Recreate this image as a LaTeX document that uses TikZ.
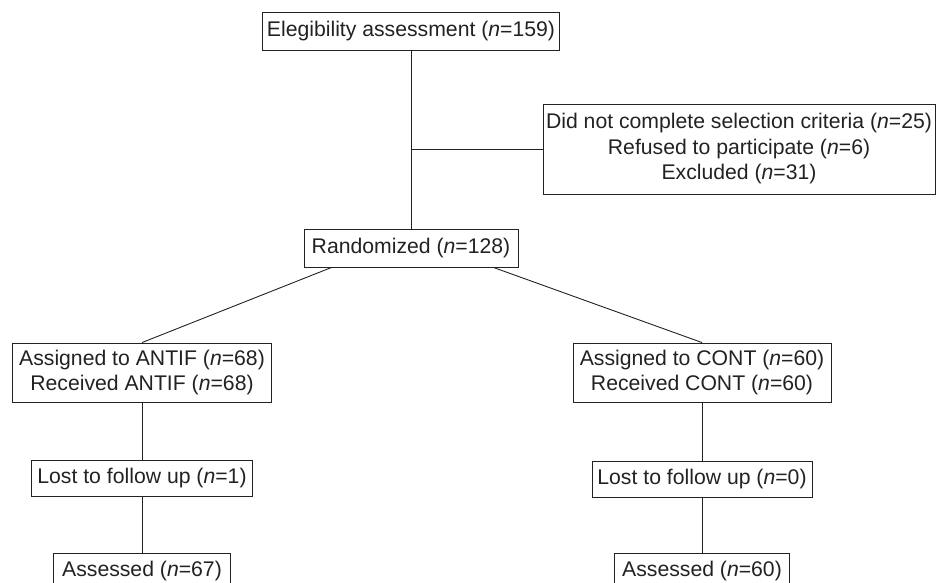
\documentclass[tikz,border=0pt]{standalone}
\usepackage{fontspec}
\setmainfont{Liberation Sans}
\usetikzlibrary{calc}
\definecolor{ink}{HTML}{222222}
\tikzset{
  box/.style={draw=ink, line width=0.9pt, text=ink, inner sep=0pt, align=center,
    font=\fontsize{21.2}{25.5}\selectfont},
  link/.style={draw=ink, line width=0.9pt}
}
\begin{document}
\begin{tikzpicture}[x=1pt, y=-1pt]
\useasboundingbox (0,0) rectangle (936,582);
\clip (0,0) rectangle (936,582);
\node[box, minimum width=297pt, minimum height=38pt] (top) at (411,31) {Elegibility assessment (\textit{n}=159)};
\node[box, minimum width=392pt, minimum height=90pt] (excl) at (739,149) {Did not complete selection criteria (\textit{n}=25)\\Refused to participate (\textit{n}=6)\\Excluded (\textit{n}=31)};
\node[box, minimum width=214pt, minimum height=38pt] (rand) at (411,248) {Randomized (\textit{n}=128)};
\node[box, minimum width=259pt, minimum height=59pt] (al) at (142,372.5) {Assigned to ANTIF (\textit{n}=68)\\Received ANTIF (\textit{n}=68)};
\node[box, minimum width=258pt, minimum height=59pt] (ar) at (702,372.5) {Assigned to CONT (\textit{n}=60)\\Received CONT (\textit{n}=60)};
\node[box, minimum width=221pt, minimum height=36pt] (ll) at (142,478) {Lost to follow up (\textit{n}=1)};
\node[box, minimum width=220pt, minimum height=36pt] (lr) at (702,479) {Lost to follow up (\textit{n}=0)};
\node[box, minimum width=177pt, minimum height=36pt] (sl) at (142,571) {Assessed (\textit{n}=67)};
\node[box, minimum width=175pt, minimum height=36pt] (sr) at (702,571) {Assessed (\textit{n}=60)};
\coordinate (j) at (411,149);
\draw[link] (top.south) -- (rand.north);
\draw[link] (j) -- (excl.west);
\draw[link] ([xshift=28pt]rand.south west) -- (al.north);
\draw[link] ([xshift=-25pt]rand.south east) -- (ar.north);
\draw[link] (al.south) -- (ll.north);
\draw[link] (ll.south) -- (sl.north);
\draw[link] (ar.south) -- (lr.north);
\draw[link] (lr.south) -- (sr.north);
\end{tikzpicture}
\end{document}
